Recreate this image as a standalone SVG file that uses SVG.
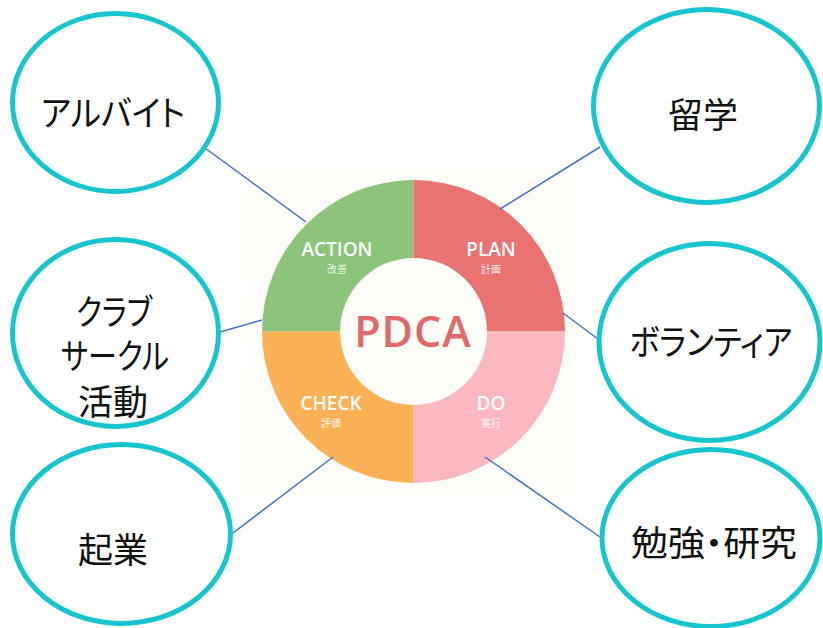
<svg xmlns="http://www.w3.org/2000/svg" width="823" height="628" viewBox="0 0 823 628">
<style>
.node ellipse{fill:#ffffff;stroke:#17c5cf;stroke-width:5}
.lbl{font-family:"Noto Sans CJK JP","Noto Sans",sans-serif;font-size:35px;fill:#111;text-anchor:middle;dominant-baseline:central;font-feature-settings:"palt"}
.conn line{stroke:#4472c4;stroke-width:1.5}
.q{font-family:"Open Sans","Liberation Sans",sans-serif;font-size:19px;font-weight:600;fill:#fff;text-anchor:middle}
.qs{font-family:"Noto Sans CJK JP",sans-serif;font-size:10px;fill:#fff;fill-opacity:0.9;text-anchor:middle}
</style>
<rect width="823" height="628" fill="#ffffff"/>
<g id="pdca">
<rect x="248" y="168" width="328" height="326" fill="#fcfcf8"/>
<path d="M413.5 331.5 V180 A151.5 151.5 0 0 0 262 331.5 Z" fill="#8cc47a"/>
<path d="M413.5 331.5 V180 A151.5 151.5 0 0 1 565 331.5 Z" fill="#e87372"/>
<path d="M413.5 331.5 H565 A151.5 151.5 0 0 1 413.5 483 Z" fill="#fbb8c1"/>
<path d="M413.5 331.5 V483 A151.5 151.5 0 0 1 262 331.5 Z" fill="#fbb156"/>
<circle cx="413.5" cy="331.5" r="73.5" fill="#fcfcf8"/>
<text x="413" y="347" font-family="'Open Sans','Liberation Sans',sans-serif" font-size="43" font-weight="600" fill="#e0696b" text-anchor="middle" letter-spacing="1">PDCA</text>
<text class="q" x="337" y="256">ACTION</text>
<text class="qs" x="337" y="273">改善</text>
<text class="q" x="491" y="256">PLAN</text>
<text class="qs" x="491" y="273">計画</text>
<text class="q" x="331" y="410">CHECK</text>
<text class="qs" x="331" y="427">評価</text>
<text class="q" x="491" y="410">DO</text>
<text class="qs" x="491" y="427">実行</text>
</g>
<g id="connectors" class="conn">
<line x1="205" y1="148" x2="306" y2="222"/>
<line x1="600" y1="147" x2="500" y2="209"/>
<line x1="220" y1="332" x2="262" y2="320"/>
<line x1="563" y1="313" x2="598" y2="339"/>
<line x1="333" y1="457" x2="233" y2="533"/>
<line x1="485" y1="457" x2="600" y2="537"/>
</g>
<g id="node-arubaito" class="node">
<ellipse cx="115.5" cy="102.5" rx="103" ry="89"/>
<text class="lbl" x="113" y="110" textLength="144" lengthAdjust="spacingAndGlyphs">アルバイト</text>
</g>
<g id="node-club" class="node">
<ellipse cx="115.5" cy="333" rx="103" ry="93.5"/>
<text class="lbl" x="114" y="309" font-size="33" textLength="76" lengthAdjust="spacingAndGlyphs">クラブ</text>
<text class="lbl" x="115" y="353" font-size="33" textLength="108" lengthAdjust="spacingAndGlyphs">サークル</text>
<text class="lbl" x="113" y="399" font-size="34">活動</text>
</g>
<g id="node-kigyou" class="node">
<ellipse cx="121.5" cy="534" rx="109" ry="89.5"/>
<text class="lbl" x="113" y="547" font-size="36">起業</text>
</g>
<g id="node-ryugaku" class="node">
<ellipse cx="706.5" cy="106" rx="113" ry="96.5"/>
<text class="lbl" x="703" y="112" font-size="36">留学</text>
</g>
<g id="node-volunteer" class="node">
<ellipse cx="709.5" cy="342" rx="110.5" ry="98.5"/>
<text class="lbl" x="711" y="339" textLength="163" lengthAdjust="spacingAndGlyphs">ボランティア</text>
</g>
<g id="node-benkyou" class="node">
<ellipse cx="711" cy="538" rx="109" ry="88.5"/>
<text class="lbl" x="714" y="540" textLength="166" lengthAdjust="spacingAndGlyphs">勉強・研究</text>
</g>
</svg>
